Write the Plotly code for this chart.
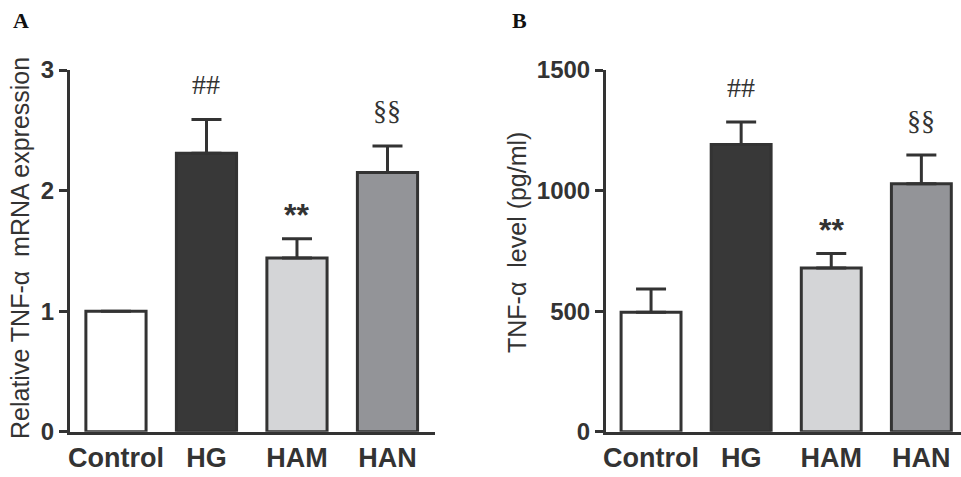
import plotly.graph_objects as go

categories = ["Control", "HG", "HAM", "HAN"]
mrna_values = [1.0, 2.31, 1.44, 2.15]
mrna_errors = [0.0, 0.28, 0.16, 0.22]
mrna_marks = ["", "##", "**", "§§"]
level_values = [495, 1191, 679, 1028]
level_errors = [97, 93, 60, 119]
level_marks = ["", "##", "**", "§§"]
fill_colors = ["#ffffff", "#383838", "#d4d5d7", "#939498"]
mrna_ticks = [0, 1, 2, 3]
level_ticks = [0, 500, 1000, 1500]

INK = "#333333"
SANS = "Liberation Sans, Arial, sans-serif"
SERIF = "Liberation Serif, Times New Roman, serif"

fig = go.Figure()

def add_bars(vals, errs, xa, ya):
    fig.add_trace(go.Bar(
        x=categories, y=vals, width=0.665,
        marker=dict(color=fill_colors, line=dict(color=INK, width=3)),
        error_y=dict(type="data", symmetric=False, array=errs,
                     arrayminus=[0] * len(errs), color=INK, thickness=3, width=15),
        xaxis=xa, yaxis=ya, showlegend=False, cliponaxis=False,
    ))

add_bars(mrna_values, mrna_errors, "x", "y")
add_bars(level_values, level_errors, "x2", "y2")

W, H = 961, 477
ytop, ybot = 70, 431.7

def xaxis(dom, rng, anchor):
    return dict(domain=dom, range=rng, type="category", showline=True, linecolor=INK,
                linewidth=3, ticks="", showgrid=False, zeroline=False, automargin=False,
                tickfont=dict(family=SANS, size=27, color=INK, weight="bold"),
                anchor=anchor)

def yaxis(rng, ticks, anchor):
    return dict(domain=[1 - ybot / H, 1 - ytop / H], range=rng, tickvals=ticks,
                showline=True, linecolor=INK, linewidth=3, ticks="outside",
                ticklen=8, tickwidth=3, tickcolor=INK, showgrid=False, zeroline=False,
                automargin=False,
                tickfont=dict(family=SANS, size=24, color=INK, weight="bold"),
                anchor=anchor)

fig.update_layout(
    width=W, height=H,
    margin=dict(l=0, r=0, t=0, b=0, autoexpand=False),
    paper_bgcolor="white", plot_bgcolor="white",
    xaxis=xaxis([70 / W, 435 / W], [-0.508, 3.525], "y"),
    yaxis=yaxis([0, 3], mrna_ticks, "x"),
    xaxis2=xaxis([606 / W, 1.0], [-0.5, 3.44], "y2"),
    yaxis2=yaxis([0, 1500], level_ticks, "x2"),
)

def add_marks(vals, errs, marks, xref, yref):
    for c, v, e, m in zip(categories, vals, errs, marks):
        if not m:
            continue
        serif = m != "**"
        fig.add_annotation(
            x=c, y=v + e, xref=xref, yref=yref, text=m, showarrow=False,
            xanchor="center", yanchor="middle", yshift=35 if serif else 24,
            font=dict(family=SERIF if serif else SANS, size=28 if serif else 32,
                      color=INK, weight="normal" if serif else "bold"),
        )

add_marks(mrna_values, mrna_errors, mrna_marks, "x", "y")
add_marks(level_values, level_errors, level_marks, "x2", "y2")

# axis titles
fig.add_annotation(x=20 / W, y=1 - 248 / H, xref="paper", yref="paper",
                   xanchor="center", yanchor="middle",
                   text="Relative TNF-α  mRNA expression", textangle=-90, showarrow=False,
                   font=dict(family=SANS, size=25, color=INK))
fig.add_annotation(x=517 / W, y=1 - 243 / H, xref="paper", yref="paper",
                   xanchor="center", yanchor="middle",
                   text="TNF-α  level (pg/ml)", textangle=-90, showarrow=False,
                   font=dict(family=SANS, size=25, color=INK))

# panel letters
fig.add_annotation(x=21 / W, y=1 - 21 / H, xref="paper", yref="paper", text="A",
                   xanchor="center", yanchor="middle",
                   showarrow=False, font=dict(family=SERIF, size=22, color="#111", weight="bold"))
fig.add_annotation(x=519 / W, y=1 - 21 / H, xref="paper", yref="paper", text="B",
                   xanchor="center", yanchor="middle",
                   showarrow=False, font=dict(family=SERIF, size=22, color="#111", weight="bold"))

fig.write_html("out.html", config={"displayModeBar": False},
               post_script="document.body.style.margin='0';document.body.style.overflow='hidden';")
